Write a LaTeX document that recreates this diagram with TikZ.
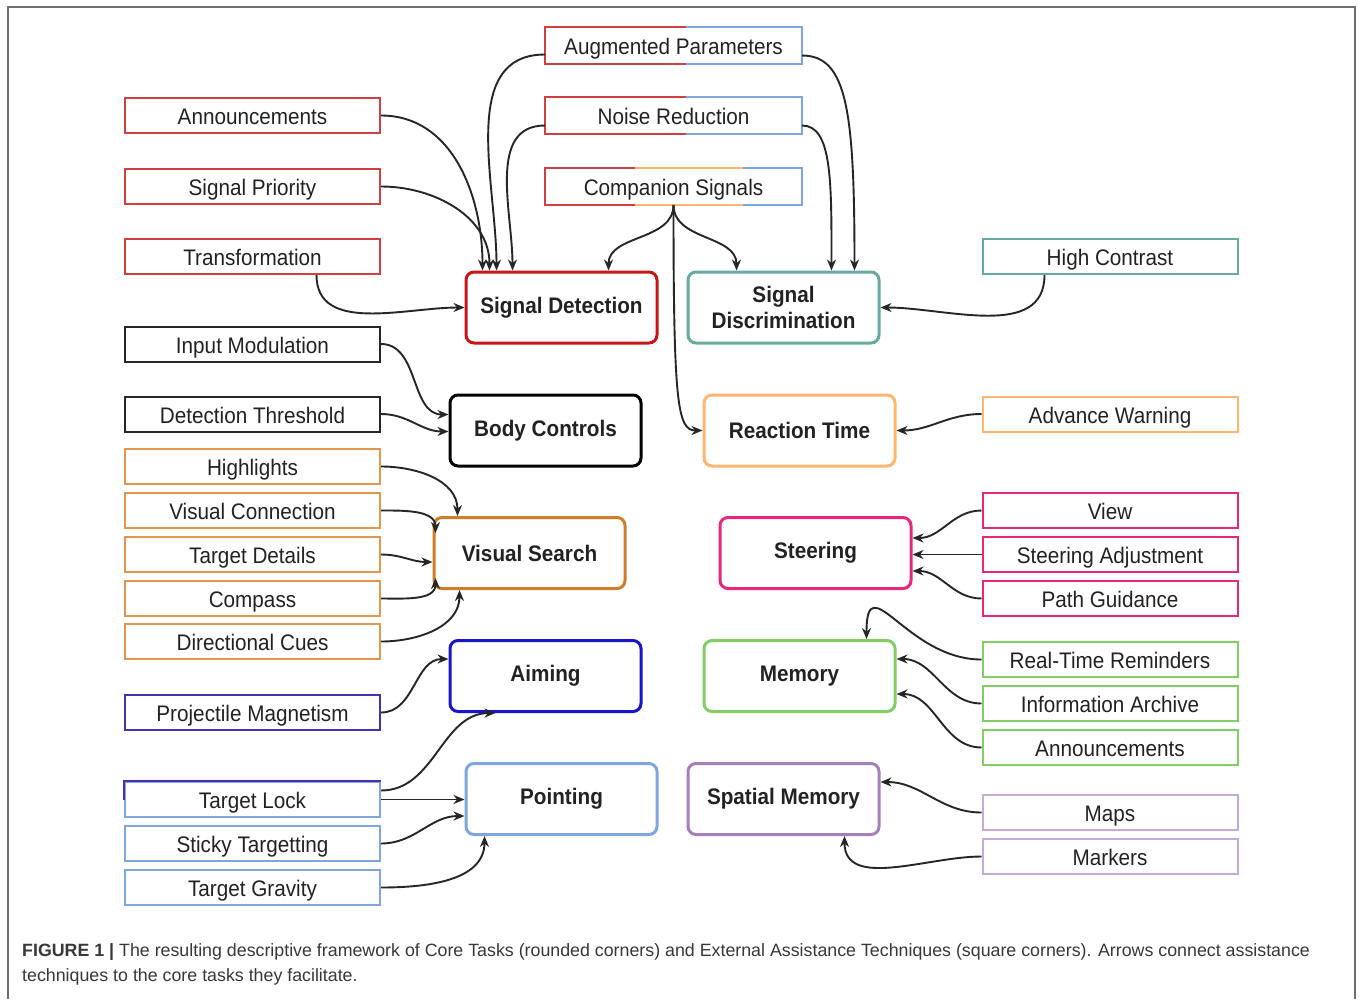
\documentclass[tikz,border=0pt]{standalone}
\usepackage{fontspec}
\setmainfont{Liberation Sans}
\newfontfamily\boxfont{Liberation Sans}[FakeStretch=0.92]
\usetikzlibrary{arrows.meta,calc}

\definecolor{redA}{RGB}{208,64,64}
\definecolor{redC}{RGB}{198,22,22}
\definecolor{blueL}{RGB}{126,166,224}
\definecolor{orangeA}{RGB}{226,150,80}
\definecolor{orangeC}{RGB}{206,126,40}
\definecolor{orangeL}{RGB}{255,182,112}
\definecolor{tealC}{RGB}{103,171,159}
\definecolor{pinkC}{RGB}{230,40,125}
\definecolor{greenC}{RGB}{130,205,100}
\definecolor{indigoA}{RGB}{72,50,172}
\definecolor{blueC}{RGB}{22,22,200}
\definecolor{purpleC}{RGB}{166,128,184}
\definecolor{purpleL}{RGB}{196,172,216}
\definecolor{txt}{RGB}{34,34,34}
\definecolor{frameC}{RGB}{110,110,110}

\tikzset{
  assist/.style={draw, line width=2pt, minimum width=255pt, minimum height=35pt,
    inner sep=0pt, text height=18.5pt, text depth=0pt,
    font=\boxfont\fontsize{22.5}{26}\selectfont, text=txt},
  core/.style={draw, line width=3pt, rounded corners=8pt, minimum width=191pt,
    minimum height=71pt, inner sep=0pt, align=center,
    font=\boxfont\bfseries\fontsize{22.5}{26}\selectfont, text=txt},
  link/.style={-{Stealth[length=11pt,width=9pt]}, line width=1.9pt, black!85},
}

% two-coloured border of an assistance box
\newcommand\twotone[4]{%
  \draw[line width=2pt,#2] ($(#1.north west)!#4!(#1.north east)$) -- (#1.north west)
    -- (#1.south west) -- ($(#1.south west)!#4!(#1.south east)$);
  \draw[line width=2pt,#3] ($(#1.north west)!#4!(#1.north east)$) -- (#1.north east)
    -- (#1.south east) -- ($(#1.south west)!#4!(#1.south east)$);}

\begin{document}
\begin{tikzpicture}[x=1pt,y=1pt]
\useasboundingbox (0,0) rectangle (1360,-999);
\fill[white] (0,0) rectangle (1360,-999);
% rahmen
\draw[frameC, line width=1.6pt] (8,-999) -- (8,-7) -- (1355,-7) -- (1355,-999);

% techniques, left column
\node[assist, draw=redA] (ann1) at (252.5,-115.5) {Announcements};
\node[assist, draw=redA] (prio) at (252.5,-186.5) {Signal Priority};
\node[assist, draw=redA] (trans) at (252.5,-256.5) {Transformation};
\node[assist, draw=black!85] (inmod) at (252.5,-344) {Input Modulation};
\node[assist, draw=black!85] (dthr) at (252.5,-414) {Detection Threshold};
\node[assist, draw=orangeA] (highl) at (252.5,-466.5) {Highlights};
\node[assist, draw=orangeA] (vconn) at (252.5,-510.5) {Visual Connection};
\node[assist, draw=orangeA] (tdet) at (252.5,-554.5) {Target Details};
\node[assist, draw=orangeA] (comp) at (252.5,-598.5) {Compass};
\node[assist, draw=orangeA] (dcues) at (252.5,-641.5) {Directional Cues};
\node[assist, draw=indigoA] (pmag) at (252.5,-712.5) {Projectile Magnetism};
\node[assist, draw=blueL] (tlock) at (252.5,-799.5) {Target Lock};
\draw[indigoA, line width=2pt] (tlock.west) -- (tlock.north west) -- (tlock.north east);
\node[assist, draw=blueL] (sticky) at (252.5,-843.5) {Sticky Targetting};
\node[assist, draw=blueL] (tgrav) at (252.5,-887.5) {Target Gravity};

% techniques, top
\node[assist, draw=none] (augp) at (673.5,-45.5) {Augmented Parameters};
\node[assist, draw=none] (noise) at (673.5,-115.5) {Noise Reduction};
\node[assist, draw=none] (cs) at (673.5,-186.5) {Companion Signals};
\twotone{augp}{redA}{blueL}{0.55}
\twotone{noise}{redA}{blueL}{0.55}
\twotone{cs}{redA}{blueL}{0.77}
\draw[line width=2pt, orangeL] ($(cs.north west)!0.35!(cs.north east)$) -- ($(cs.north west)!0.77!(cs.north east)$);
\draw[line width=2pt, orangeL] ($(cs.south west)!0.35!(cs.south east)$) -- ($(cs.south west)!0.77!(cs.south east)$);

% techniques, right column
\node[assist, draw=tealC] (hicon) at (1110,-256.5) {High Contrast};
\node[assist, draw=orangeL] (advw) at (1110,-414) {Advance Warning};
\node[assist, draw=pinkC] (view) at (1110,-510.5) {View};
\node[assist, draw=pinkC] (stadj) at (1110,-554.5) {Steering Adjustment};
\node[assist, draw=pinkC] (path) at (1110,-598.5) {Path Guidance};
\node[assist, draw=greenC] (rtrem) at (1110,-659.5) {Real-Time Reminders};
\node[assist, draw=greenC] (infoa) at (1110,-703.5) {Information Archive};
\node[assist, draw=greenC] (ann2) at (1110,-747.5) {Announcements};
\node[assist, draw=purpleL] (maps) at (1110,-812.5) {Maps};
\node[assist, draw=purpleL] (markers) at (1110,-856.5) {Markers};

% core tasks
\node[core, draw=redC] (sd) at (561.5,-307.5) {Signal Detection};
\node[core, draw=tealC] (sdisc) at (783.5,-307.5) {Signal\\Discrimination};
\node[core, draw=black] (bc) at (545.5,-430.5) {Body Controls};
\node[core, draw=orangeL] (rt) at (799.5,-430.5) {Reaction Time};
\node[core, draw=orangeC] (vs) at (529.5,-553) {Visual Search};
\node[core, draw=pinkC] (steer) at (815.5,-553) {Steering};
\node[core, draw=blueC] (aim) at (545.5,-676) {Aiming};
\node[core, draw=greenC] (mem) at (799.5,-676) {Memory};
\node[core, draw=blueL] (point) at (561.5,-799) {Pointing};
\node[core, draw=purpleC] (spmem) at (783.5,-799) {Spatial Memory};

% pfeile
\draw[link] (ann1.east) to[out=0,in=90] ($(sd.north west)+(18,0)$);
\draw[link] (prio.east) to[out=0,in=90] ($(sd.north west)+(25,0)$);
\draw[link] ($(augp.west)+(0,-9)$) to[out=180,in=90] ($(sd.north west)+(32,0)$);
\draw[link] ($(noise.west)+(0,-10)$) to[out=180,in=90] ($(sd.north west)+(48,0)$);
\draw[link] ($(trans.south)+(64,0)$) to[out=-90,in=180] (sd.west);
\draw[link] (cs.south) to[out=-90,in=90] ($(sd.north west)+(144,0)$);
\draw[link] (cs.south) to[out=-90,in=90] ($(sdisc.north west)+(50,0)$);
\draw[link] (cs.south) .. controls +(0,-200) and +(-25,0) .. (rt.west);
\draw[link] ($(augp.east)+(0,-10)$) .. controls +(45,0) and +(0,160) .. ($(sdisc.north west)+(168,0)$);
\draw[link] ($(noise.east)+(0,-10)$) .. controls +(30,0) and +(0,90) .. ($(sdisc.north west)+(145,0)$);
\draw[link] ($(hicon.south west)+(63,0)$) to[out=-90,in=0] (sdisc.east);
\draw[link] (inmod.east) to[out=0,in=180] ($(bc.west)+(0,16)$);
\draw[link] (dthr.east) to[out=0,in=180] ($(bc.west)+(0,-1)$);
\draw[link] (advw.west) to[out=180,in=0] (rt.east);
\draw[link] (highl.east) to[out=0,in=90] ($(vs.north west)+(25,0)$);
\draw[link] (vconn.east) to[out=0,in=90] ($(vs.west)+(3,20)$);
\draw[link] (tdet.east) to[out=0,in=180] ($(vs.west)+(0,-9)$);
\draw[link] (comp.east) to[out=0,in=-90] ($(vs.west)+(3,-25)$);
\draw[link] (dcues.east) to[out=0,in=-90] ($(vs.south west)+(27,0)$);
\draw[link] (pmag.east) to[out=0,in=180] ($(aim.west)+(0,17)$);
\draw[link] ($(tlock.east)+(0,9)$) to[out=0,in=180] ($(aim.south west)+(47,0)$);
\draw[link] (tlock.east) -- (tlock.east -| point.west);
\draw[link] (sticky.east) to[out=0,in=180] ($(point.west)+(0,-17)$);
\draw[link] (tgrav.east) to[out=0,in=-90] ($(point.south west)+(20,0)$);
\draw[link] (view.west) to[out=180,in=0] ($(steer.east)+(0,15)$);
\draw[link] (stadj.west) -- (stadj.west -| steer.east);
\draw[link] (path.west) to[out=180,in=0] ($(steer.east)+(0,-18)$);
\draw[link] (rtrem.west) .. controls +(-75,0) and +(0,75) .. ($(mem.north west)+(164,0)$);
\draw[link] (infoa.west) to[out=180,in=0] ($(mem.east)+(0,17)$);
\draw[link] (ann2.west) to[out=180,in=0] ($(mem.east)+(0,-18)$);
\draw[link] (maps.west) to[out=180,in=0] ($(spmem.east)+(0,17)$);
\draw[link] (markers.west) to[out=180,in=-90] ($(spmem.south west)+(158,0)$);

% bildunterschrift
\node[anchor=north west, align=left, inner sep=0pt, text=black!78,
  font=\fontsize{17.8}{25}\selectfont] (cap) at (22,-943)
  {\textbf{FIGURE 1 |} The resulting descriptive framework of Core Tasks (rounded corners) and External Assistance Techniques (square corners). Arrows connect assistance\\
   techniques to the core tasks they facilitate.};
\end{tikzpicture}
\end{document}
